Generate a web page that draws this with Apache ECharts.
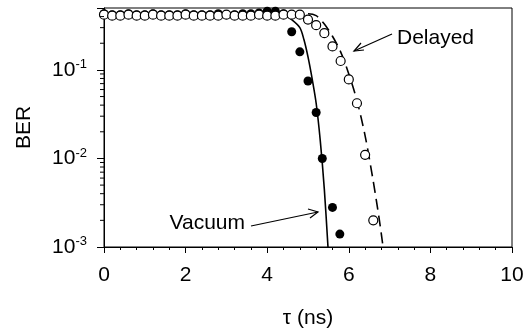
<!DOCTYPE html>
<html>
<head>
<meta charset="utf-8">
<script src="https://cdn.jsdelivr.net/npm/echarts@6/dist/echarts.min.js"></script>
<style>
  html, body { margin: 0; padding: 0; background: #fff; }
  #chart { width: 528px; height: 334px; }
</style>
</head>
<body>
<div id="chart"></div>
<script>
// measured points (tau in ns, BER)
var vacuumX = [0, 0.2, 0.4, 0.6, 0.8, 1.0, 1.2, 1.4, 1.6, 1.8, 2.0, 2.2, 2.4, 2.6, 2.8, 3.0, 3.2, 3.4, 3.6, 3.8, 4.0, 4.2, 4.4, 4.6, 4.8, 5.0, 5.2, 5.35, 5.6, 5.78];
var vacuumY = [0.43, 0.42, 0.42, 0.43, 0.42, 0.42, 0.43, 0.42, 0.42, 0.42, 0.43, 0.42, 0.42, 0.42, 0.43, 0.42, 0.42, 0.43, 0.43, 0.44, 0.46, 0.46, 0.43, 0.27, 0.16, 0.075, 0.033, 0.01, 0.0028, 0.0014];
var delayedX = [0, 0.2, 0.4, 0.6, 0.8, 1.0, 1.2, 1.4, 1.6, 1.8, 2.0, 2.2, 2.4, 2.6, 2.8, 3.0, 3.2, 3.4, 3.6, 3.8, 4.0, 4.2, 4.4, 4.6, 4.8, 5.0, 5.2, 5.4, 5.6, 5.8, 6.0, 6.2, 6.4, 6.6];
var delayedY = [0.42, 0.41, 0.41, 0.42, 0.41, 0.41, 0.42, 0.41, 0.41, 0.41, 0.42, 0.41, 0.41, 0.41, 0.41, 0.42, 0.41, 0.41, 0.41, 0.42, 0.41, 0.41, 0.42, 0.42, 0.42, 0.37, 0.32, 0.26, 0.184, 0.126, 0.078, 0.042, 0.011, 0.002];

// fitted curves
var vacuumFitX = [0, 4.2, 4.4, 4.6, 4.8, 4.9, 5.0, 5.1, 5.2, 5.3, 5.4, 5.49];
var vacuumFitY = [0.43, 0.43, 0.42, 0.37, 0.3, 0.22, 0.14, 0.08, 0.042, 0.016, 0.0045, 0.001];
var delayedFitX = [0, 4.8, 5.0, 5.2, 5.4, 5.6, 5.8, 6.0, 6.2, 6.4, 6.6, 6.75, 6.84];
var delayedFitY = [0.42, 0.43, 0.43, 0.41, 0.33, 0.24, 0.16, 0.09, 0.045, 0.018, 0.0055, 0.002, 0.001];

// log minor tick values on the BER axis
var berMinor = [0.002, 0.003, 0.004, 0.005, 0.006, 0.007, 0.008, 0.009,
                0.02, 0.03, 0.04, 0.05, 0.06, 0.07, 0.08, 0.09,
                0.2, 0.3, 0.4];

function pairs(xs, ys) {
    var out = [];
    for (var i = 0; i < xs.length; i++) out.push([xs[i], ys[i]]);
    return out;
}

var FONT = '"Liberation Sans", Arial, sans-serif';
var chart = echarts.init(document.getElementById('chart'));

var option = {
    animation: false,
    textStyle: { fontFamily: FONT, color: '#000' },
    grid: {
        left: 104, right: 16, top: 8, bottom: 86,
        show: true, borderColor: '#000', borderWidth: 1
    },
    xAxis: {
        type: 'value', min: 0, max: 10, interval: 2,
        name: 'τ (ns)', nameLocation: 'middle', nameGap: 61,
        nameTextStyle: { fontSize: 21, color: '#000', fontFamily: FONT },
        axisLine: { lineStyle: { color: '#000', width: 1 } },
        axisTick: { length: 6, lineStyle: { color: '#000' } },
        minorTick: { show: true, splitNumber: 5, length: 3, lineStyle: { color: '#000' } },
        splitLine: { show: false },
        axisLabel: { fontSize: 21, color: '#000', fontFamily: FONT, margin: 18 }
    },
    yAxis: {
        type: 'log', logBase: 10, min: 0.001, max: 0.5,
        name: 'BER', nameLocation: 'middle', nameGap: 69, nameRotate: 90,
        nameTextStyle: { fontSize: 21, color: '#000', fontFamily: FONT },
        axisLine: { lineStyle: { color: '#000', width: 1 } },
        axisTick: { length: 7, lineStyle: { color: '#000' } },
        splitLine: { show: false },
        axisLabel: {
            color: '#000', fontFamily: FONT, margin: 17,
            formatter: function (v) {
                var e = Math.log10(v);
                if (Math.abs(e - Math.round(e)) > 1e-6) return '';
                return '{b|10}{s|' + Math.round(e) + '}';
            },
            rich: {
                b: { fontSize: 21, fontFamily: FONT, color: '#000' },
                s: { fontSize: 13, fontFamily: FONT, color: '#000', padding: [0, 0, 11, 0] }
            }
        }
    },
    series: [
        {
            type: 'custom', silent: true, clip: false, z: 5,
            data: berMinor.map(function (v) { return [0, v]; }),
            renderItem: function (params, api) {
                var p = api.coord([0, api.value(1)]);
                return {
                    type: 'line',
                    shape: { x1: p[0] - 4, y1: p[1], x2: p[0], y2: p[1] },
                    style: { stroke: '#000', lineWidth: 1 }
                };
            }
        },
        {
            name: 'Vacuum fit', type: 'line', showSymbol: false, smooth: 0.3,
            data: pairs(vacuumFitX, vacuumFitY),
            lineStyle: { color: '#000', width: 1.6 }, z: 2
        },
        {
            name: 'Delayed fit', type: 'line', showSymbol: false, smooth: 0.3,
            data: pairs(delayedFitX, delayedFitY),
            lineStyle: { color: '#000', width: 1.6, type: [11, 6] }, z: 2
        },
        {
            name: 'Vacuum', type: 'scatter', symbol: 'circle', symbolSize: 9,
            data: pairs(vacuumX, vacuumY),
            itemStyle: { color: '#000', opacity: 1 }, z: 3
        },
        {
            name: 'Delayed', type: 'scatter', symbol: 'circle', symbolSize: 9,
            data: pairs(delayedX, delayedY),
            itemStyle: { color: '#fff', borderColor: '#000', borderWidth: 1.2, opacity: 1 }, z: 4
        }
    ],
    graphic: [
        { type: 'text', left: 397, top: 28, style: { text: 'Delayed', font: '21px ' + FONT, fill: '#000' } },
        { type: 'line', shape: { x1: 392, y1: 34, x2: 354, y2: 51 }, style: { stroke: '#000', lineWidth: 1.2 } },
        { type: 'polyline', shape: { points: [[361, 43], [354, 51], [364, 50]] }, style: { stroke: '#000', lineWidth: 1.2, fill: null } },
        { type: 'text', right: 528 - 245, top: 213, style: { text: 'Vacuum', font: '21px ' + FONT, fill: '#000', align: 'right' } },
        { type: 'line', shape: { x1: 251, y1: 226, x2: 318, y2: 212 }, style: { stroke: '#000', lineWidth: 1.2 } },
        { type: 'polyline', shape: { points: [[308, 209], [318, 212], [310, 218]] }, style: { stroke: '#000', lineWidth: 1.2, fill: null } }
    ]
};

chart.setOption(option);
window.onresize = chart.resize;
</script>
</body>
</html>
